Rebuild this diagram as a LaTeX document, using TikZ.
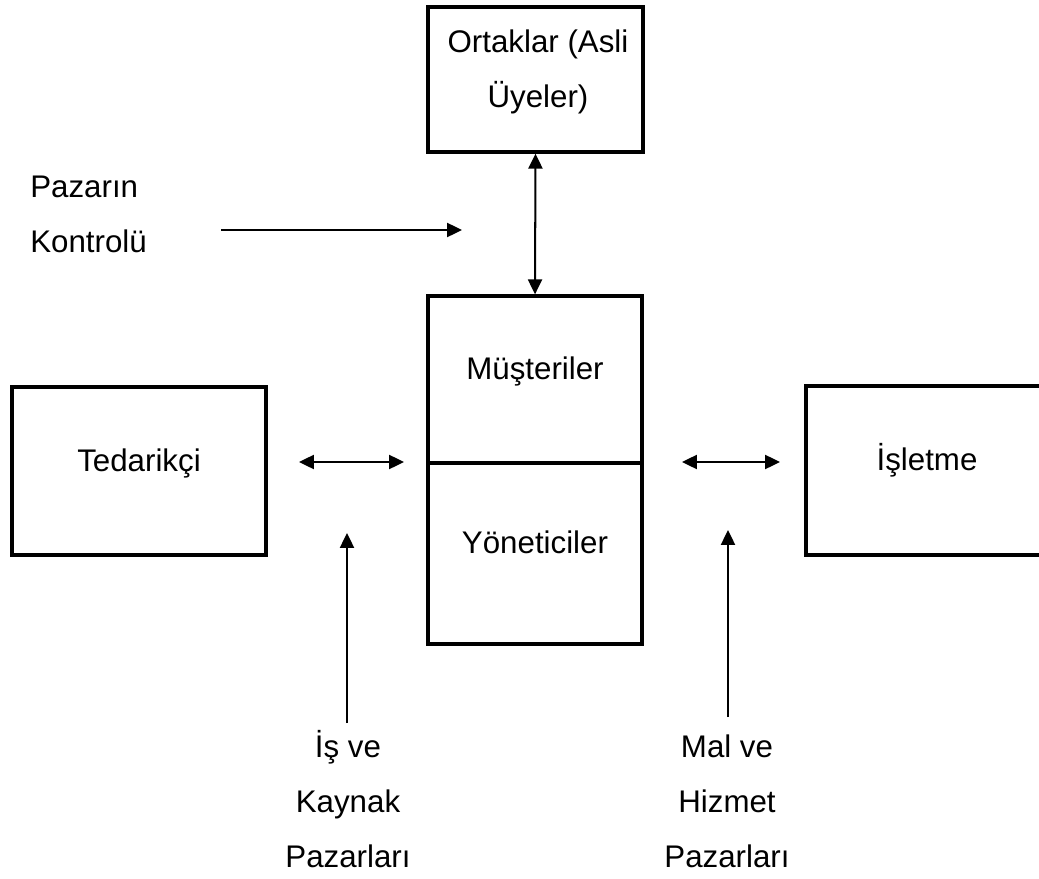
\documentclass[tikz,border=0pt]{standalone}
\usepackage{fontspec}
\setmainfont{Liberation Sans}
\usetikzlibrary{arrows.meta}

\tikzset{
    box/.style={draw, line width=1.9pt, rectangle, inner sep=0pt,
        text height=0pt, text depth=0pt},
    txt/.style={inner sep=0pt, align=center},
    arr/.style={line width=1.15pt, -{Triangle[length=8.5pt, width=8pt]}},
    darr/.style={line width=1.15pt, {Triangle[length=8.5pt, width=8pt]}-{Triangle[length=8.5pt, width=8pt]}}
}

\begin{document}
\begin{tikzpicture}[x=0.02cm, y=-0.02cm, font=\fontsize{17.8}{31.3}\selectfont]
    \useasboundingbox (0,0) rectangle (1039,879);
    \clip (0,0) rectangle (1039,879);

    % Boxes
    \node[box, minimum width=4.30cm, minimum height=2.90cm] (ortak) at (535.5,79.5) {};
    \node[txt] (ortakLbl) at (538,72) {Ortaklar (Asli\\Üyeler)};
    \node[box, minimum width=4.28cm, minimum height=3.34cm] (musteri) at (535,379.5) {Müşteriler};
    \node[box, minimum width=4.28cm, minimum height=3.62cm] (yonetici) at (535,553.5) {Yöneticiler};
    \node[box, minimum width=5.08cm, minimum height=3.36cm] (tedarik) at (139,471) {Tedarikçi};
    \node[box, minimum width=4.84cm, minimum height=3.38cm] (isletme) at (927,470.5) {İşletme};

    % Labels
    \node[txt, anchor=west, align=left] (pazar) at (30,214.3) {Pazarın\\Kontrolü};
    \node[txt] (isKaynak) at (348,799) {İş ve\\Kaynak\\Pazarları};
    \node[txt] (malHizmet) at (727,801) {Mal ve\\Hizmet\\Pazarları};

    % Arrow ends
    \coordinate (pazarA) at (221,230);
    \coordinate (pazarB) at (462,230);
    \coordinate (tedA) at (299,462);
    \coordinate (tedB) at (404,462);
    \coordinate (islA) at (682,462);
    \coordinate (islB) at (780,462);
    \coordinate (isA) at (347,723);
    \coordinate (isB) at (347,533);
    \coordinate (malA) at (728,717);
    \coordinate (malB) at (728,530);

    % Arrows
    \draw[darr] (ortak.south) -- (musteri.north);
    \draw[arr] (pazarA) -- (pazarB);
    \draw[darr] (tedA) -- (tedB);
    \draw[darr] (islA) -- (islB);
    \draw[arr] (isA) -- (isB);
    \draw[arr] (malA) -- (malB);
\end{tikzpicture}
\end{document}
